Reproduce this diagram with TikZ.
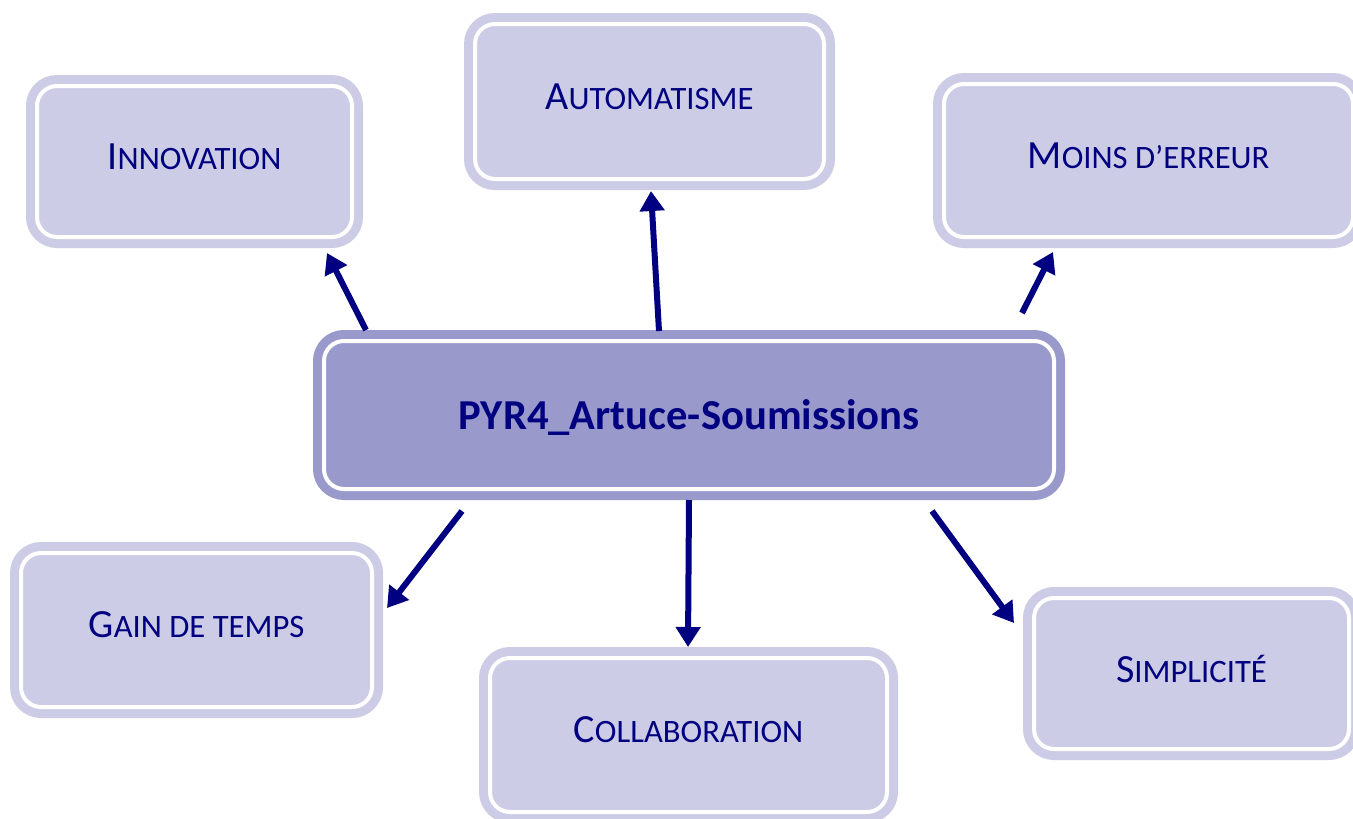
\documentclass[tikz,border=0pt]{standalone}
\usepackage{fontspec}
\setmainfont{Carlito}
\usetikzlibrary{arrows.meta}
\definecolor{lav}{HTML}{CCCCE6}
\definecolor{lavd}{HTML}{9999CC}
\definecolor{navy}{HTML}{000080}
\newcommand\sclab[2]{{\fontsize{30pt}{34pt}\selectfont #1}{\fontsize{24.5pt}{28pt}\selectfont #2}}
\begin{document}
\begin{tikzpicture}[x=0.75pt,y=-0.75pt,
  box/.style={rounded corners=15pt, fill=lav, draw=white, line width=3pt,
    inner sep=0pt, text=navy, text depth=7.5pt,
    preaction={draw=lav, line width=16.5pt}},
  mainbox/.style={rounded corners=15pt, fill=lavd, draw=white, line width=3pt,
    inner sep=0pt, text=navy, text depth=0pt,
    preaction={draw=lavd, line width=16.5pt}},
  arr/.style={draw=navy, line width=4.5pt, -{Triangle[length=15pt,width=18pt]}}]
\useasboundingbox (0,0) rectangle (1353,818);
\clip (0,0) rectangle (1353,818);

\node[box, minimum width=236.25pt, minimum height=113.25pt] (inn) at (194.5,161.5) {\sclab{I}{NNOVATION}};
\node[box, minimum width=261.75pt, minimum height=116.25pt] (aut) at (649.5,101.5) {\sclab{A}{UTOMATISME}};
\node[box, minimum width=306.75pt, minimum height=114.75pt] (moi) at (1148.5,160.5) {\sclab{M}{OINS D’ERREUR}};
\node[mainbox, minimum width=547.5pt, minimum height=111pt] (cen) at (689,415) {\fontsize{32pt}{37pt}\selectfont\bfseries PYR4\_Artuce-Soumissions};
\node[box, minimum width=263.25pt, minimum height=115.5pt] (gai) at (196.5,630) {\sclab{G}{AIN DE TEMPS}};
\node[box, minimum width=297.75pt, minimum height=115.5pt] (col) at (688.5,735) {\sclab{C}{OLLABORATION}};
\node[box, minimum width=236.25pt, minimum height=113.25pt] (sim) at (1191.5,673.5) {\sclab{S}{IMPLICITÉ}};

\coordinate (s1) at (366,330); \coordinate (e1) at (327,253);
\coordinate (s2) at (659,331); \coordinate (e2) at (651,191);
\coordinate (s3) at (1022,313); \coordinate (e3) at (1053,252);
\coordinate (s4) at (462,511); \coordinate (e4) at (387,608);
\coordinate (s5) at (689,500); \coordinate (e5) at (688,647);
\coordinate (s6) at (932,511); \coordinate (e6) at (1014,623);
\draw[arr] (s1) -- (e1);
\draw[arr] (s2) -- (e2);
\draw[arr] (s3) -- (e3);
\draw[arr] (s4) -- (e4);
\draw[arr] (s5) -- (e5);
\draw[arr] (s6) -- (e6);
\end{tikzpicture}
\end{document}
